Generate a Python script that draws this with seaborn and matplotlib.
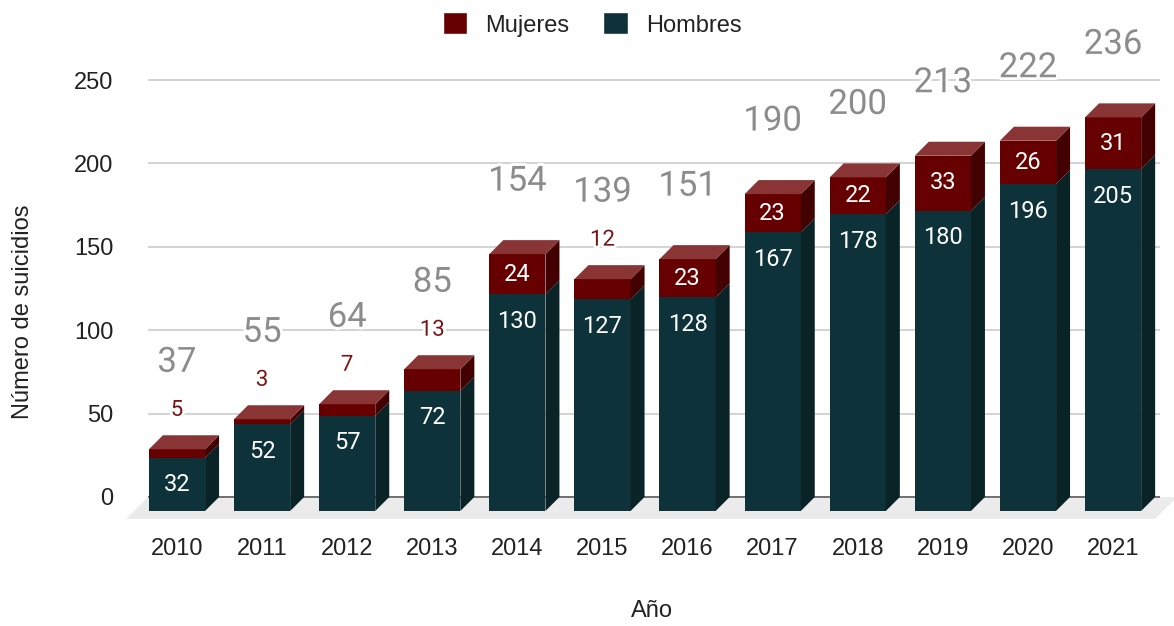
import numpy as np
import pandas as pd
import seaborn as sns
import matplotlib.pyplot as plt
import matplotlib.patheffects as pe
from matplotlib.patches import Polygon, Patch

# datos
anios = ['2010', '2011', '2012', '2013', '2014', '2015',
         '2016', '2017', '2018', '2019', '2020', '2021']
hombres = [32, 52, 57, 72, 130, 127, 128, 167, 178, 180, 196, 205]
mujeres = [5, 3, 7, 13, 24, 12, 23, 23, 22, 33, 26, 31]
yticks = [0, 50, 100, 150, 200, 250]

df = pd.DataFrame({'anio': anios, 'hombres': hombres, 'mujeres': mujeres})
df['total'] = df['hombres'] + df['mujeres']

c_muj, c_muj_top, c_muj_side = '#660000', '#8a3535', '#420000'
c_hom, c_hom_side = '#0d3239', '#0a2327'

sns.set_style('white')
plt.rcParams['font.family'] = ['Liberation Sans', 'DejaVu Sans']

fig = plt.figure(figsize=(11.74, 6.26), dpi=100)
ax = fig.add_axes([148 / 1174, 96 / 626, 1012 / 1174, 470 / 626])

ancho = 0.66
# caras frontales: primero el total (mujeres encima), luego hombres
sns.barplot(data=df, x='anio', y='total', color=c_muj, saturation=1,
            width=ancho, linewidth=0, errorbar=None, ax=ax, zorder=3)
sns.barplot(data=df, x='anio', y='hombres', color=c_hom, saturation=1,
            width=ancho, linewidth=0, errorbar=None, ax=ax, zorder=3)

ax.set_xlim(-0.505, 11.387)
ax.set_ylim(-19.8, 262)

# profundidad del efecto 3D en pixeles -> unidades de datos
p0 = ax.transData.transform((0, 0))
p1 = ax.transData.transform((1, 1))
sx, sy = p1[0] - p0[0], p1[1] - p0[1]
dxd, dyd = 14 / sx, 14 / sy
fdx, fdy = 22 / sx, 22 / sy
inset = 27 / sy

for p in ax.patches:
    p.set_x(p.get_x() - dxd)
    p.set_y(p.get_y() - dyd)

# suelo gris
xl, xr = ax.get_xlim()[0], ax.get_xlim()[1] + 17 / sx
ax.add_patch(Polygon([(xl, 0), (xr, 0), (xr - fdx, -fdy), (xl - fdx, -fdy)],
                     closed=True, fc='#ebebeb', lw=0, zorder=1, clip_on=False))
ax.axhline(0, color='#5e5e5e', lw=1.2, zorder=2)

halo = [pe.withStroke(linewidth=4, foreground='white')]

for i, row in df.iterrows():
    h, m, t = row['hombres'], row['mujeres'], row['total']
    x0, x1 = i - ancho / 2, i + ancho / 2
    for y0, y1, c in [(0, h, c_hom_side), (h, t, c_muj_side)]:
        ax.add_patch(Polygon([(x1 - dxd, y0 - dyd), (x1 - dxd, y1 - dyd), (x1, y1), (x1, y0)],
                             closed=True, fc=c, lw=0, zorder=3))
    ax.add_patch(Polygon([(x0 - dxd, t - dyd), (x1 - dxd, t - dyd), (x1, t), (x0, t)],
                         closed=True, fc=c_muj_top, lw=0, zorder=3))

    xf = i - dxd
    ax.text(xf, h - min(h / 2, inset) - dyd, str(h), color='white', ha='center',
            va='center', fontsize=17, family='Roboto', zorder=6)
    if m >= 20:
        ax.text(xf, t - min(m / 2, inset) - dyd, str(m), color='white', ha='center',
                va='center', fontsize=17, family='Roboto', zorder=6)
        off = 59
    else:
        ax.annotate(str(m), (xf, t), xytext=(0, 25 * 0.72), textcoords='offset points',
                    ha='center', va='center', fontsize=16, color='#7a1414',
                    family='Roboto', zorder=6, path_effects=halo)
        off = 73
    ax.annotate(str(t), (xf, t), xytext=(0, off * 0.72), textcoords='offset points',
                ha='center', va='center', fontsize=25, color='#8c8c8c',
                family='Roboto', zorder=6, path_effects=halo)

ax.set_xticks(np.arange(len(anios)) - dxd, anios)
ax.set_yticks(yticks)
ax.tick_params(length=0, labelsize=17, labelcolor='#222222')
ax.tick_params(axis='y', pad=25)
ax.tick_params(axis='x', pad=6)
ax.yaxis.grid(True, color='#cccccc', lw=1.2)
ax.xaxis.grid(False)
ax.set_axisbelow(True)
sns.despine(ax=ax, left=True, bottom=True)

ax.set_xlabel('Año', fontsize=17, color='#222222')
ax.xaxis.set_label_coords(0.498, -0.149)
ax.set_ylabel('Número de suicidios', fontsize=17, color='#222222')
ax.yaxis.set_label_coords(-0.113, 0.464)

handles = [Patch(fc=c_muj, label='Mujeres'), Patch(fc=c_hom, label='Hombres')]
fig.legend(handles=handles, loc='center', bbox_to_anchor=(592 / 1174, 1 - 24.5 / 626),
           ncol=2, frameon=False, fontsize=17, handlelength=1.05, handleheight=1.05,
           handletextpad=0.75, columnspacing=1.45, labelcolor='#222222')

fig.savefig('out.png', dpi=100)
